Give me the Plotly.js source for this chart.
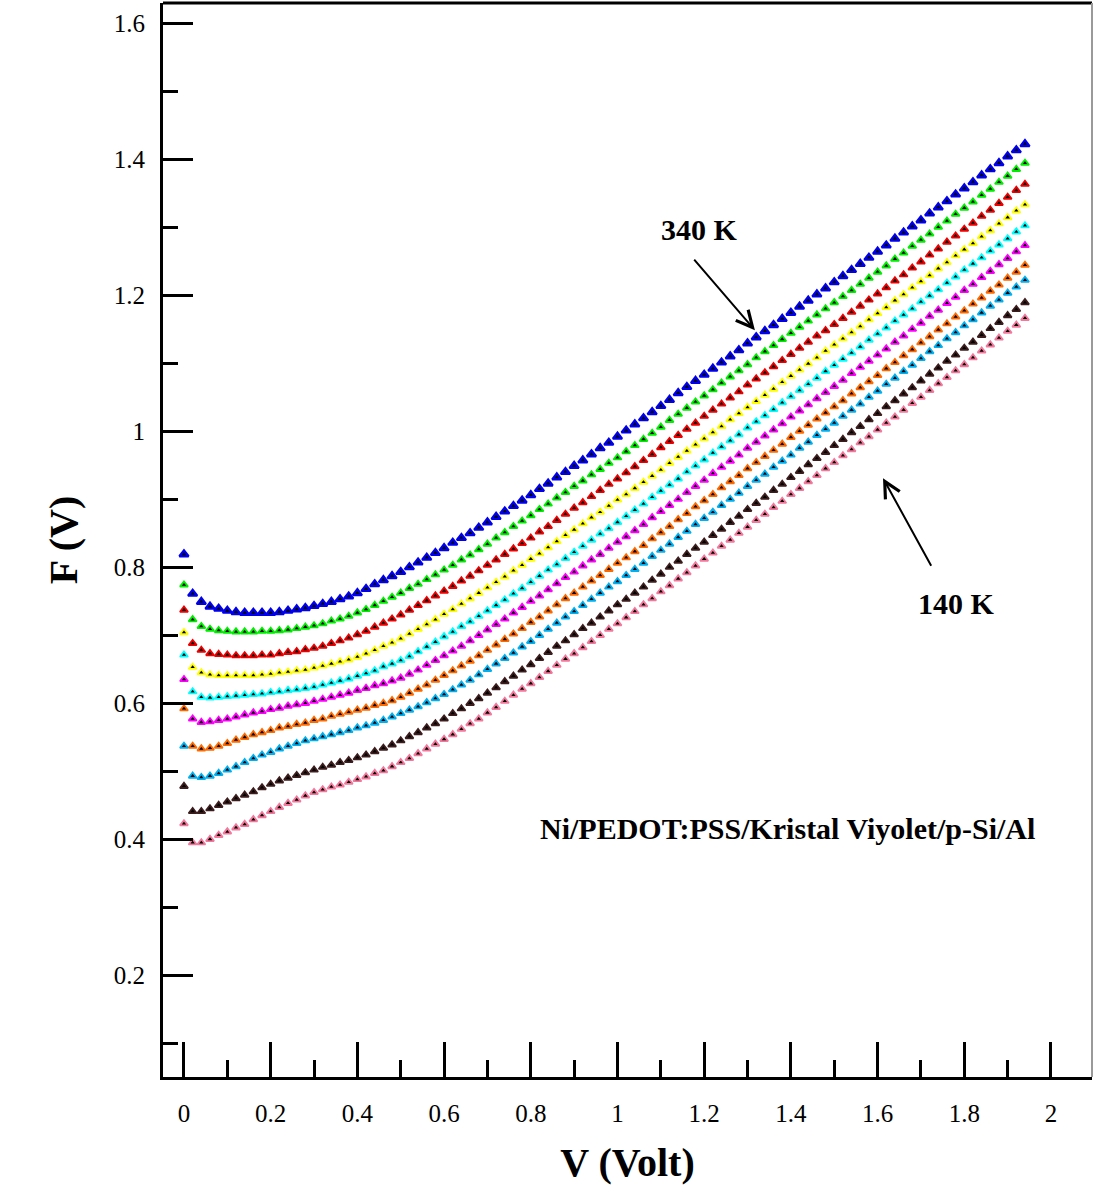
<!DOCTYPE html>
<html>
<head>
<meta charset="utf-8">
<script src="https://cdn.plot.ly/plotly-3.0.1.min.js"></script>
<style>html,body{margin:0;padding:0;background:#fff;}#chart{width:1094px;height:1200px;}</style>
</head>
<body>
<div id="chart"></div>
<script>
// Bias voltage (V), 0 to 1.94 V in 0.02 V steps
const voltage = [0,0.02,0.04,0.06,0.08,0.10,0.12,0.14,0.16,0.18,
  0.20,0.22,0.24,0.26,0.28,0.30,0.32,0.34,0.36,0.38,
  0.40,0.42,0.44,0.46,0.48,0.50,0.52,0.54,0.56,0.58,
  0.60,0.62,0.64,0.66,0.68,0.70,0.72,0.74,0.76,0.78,
  0.80,0.82,0.84,0.86,0.88,0.90,0.92,0.94,0.96,0.98,
  1.00,1.02,1.04,1.06,1.08,1.10,1.12,1.14,1.16,1.18,
  1.20,1.22,1.24,1.26,1.28,1.30,1.32,1.34,1.36,1.38,
  1.40,1.42,1.44,1.46,1.48,1.50,1.52,1.54,1.56,1.58,
  1.60,1.62,1.64,1.66,1.68,1.70,1.72,1.74,1.76,1.78,
  1.80,1.82,1.84,1.86,1.88,1.90,1.92,1.94];

// Norde function F(V) for each temperature (top curve = 340 K, bottom = 140 K)
const F_340K = [0.819,0.761,0.749,0.742,0.739,0.736,0.734,0.733,0.733,0.733,
  0.733,0.734,0.736,0.738,0.740,0.743,0.746,0.749,0.753,0.757,
  0.762,0.768,0.775,0.781,0.787,0.793,0.800,0.807,0.814,0.821,
  0.828,0.836,0.843,0.850,0.858,0.866,0.874,0.882,0.890,0.898,
  0.906,0.915,0.923,0.932,0.940,0.949,0.957,0.966,0.975,0.983,
  0.992,1.001,1.010,1.019,1.028,1.037,1.046,1.056,1.065,1.074,
  1.083,1.092,1.101,1.110,1.119,1.129,1.138,1.147,1.156,1.165,
  1.174,1.183,1.192,1.201,1.210,1.219,1.228,1.237,1.246,1.255,
  1.264,1.273,1.283,1.292,1.301,1.310,1.320,1.329,1.338,1.348,
  1.357,1.366,1.376,1.385,1.394,1.404,1.413,1.422];
const F_320K = [0.774,0.723,0.713,0.709,0.707,0.706,0.705,0.705,0.705,0.706,
  0.706,0.707,0.708,0.710,0.712,0.714,0.717,0.721,0.724,0.728,
  0.733,0.738,0.744,0.750,0.756,0.762,0.769,0.775,0.782,0.789,
  0.796,0.803,0.811,0.818,0.826,0.834,0.843,0.851,0.860,0.868,
  0.876,0.885,0.893,0.902,0.910,0.919,0.927,0.936,0.944,0.953,
  0.961,0.970,0.979,0.988,0.997,1.006,1.016,1.025,1.034,1.043,
  1.052,1.061,1.071,1.080,1.089,1.098,1.108,1.117,1.126,1.135,
  1.144,1.153,1.162,1.171,1.180,1.189,1.198,1.207,1.216,1.225,
  1.234,1.243,1.253,1.262,1.272,1.281,1.290,1.300,1.309,1.319,
  1.328,1.337,1.347,1.356,1.366,1.375,1.385,1.394];
const F_300K = [0.737,0.688,0.678,0.673,0.672,0.671,0.670,0.670,0.670,0.671,
  0.671,0.673,0.675,0.676,0.679,0.681,0.684,0.688,0.692,0.696,
  0.701,0.706,0.712,0.718,0.724,0.730,0.737,0.744,0.751,0.758,
  0.765,0.772,0.780,0.787,0.795,0.803,0.811,0.819,0.827,0.835,
  0.843,0.852,0.860,0.869,0.878,0.887,0.895,0.904,0.913,0.922,
  0.930,0.939,0.948,0.957,0.966,0.976,0.985,0.994,1.003,1.012,
  1.022,1.031,1.040,1.049,1.058,1.068,1.077,1.086,1.095,1.104,
  1.113,1.122,1.131,1.140,1.148,1.157,1.166,1.175,1.184,1.193,
  1.202,1.211,1.221,1.230,1.240,1.249,1.259,1.268,1.278,1.287,
  1.297,1.306,1.316,1.325,1.335,1.344,1.354,1.363];
const F_280K = [0.704,0.653,0.645,0.642,0.641,0.641,0.641,0.641,0.641,0.642,
  0.643,0.645,0.646,0.648,0.649,0.652,0.655,0.658,0.661,0.664,
  0.668,0.673,0.678,0.684,0.689,0.695,0.702,0.709,0.716,0.723,
  0.731,0.738,0.746,0.754,0.762,0.770,0.778,0.786,0.795,0.803,
  0.812,0.820,0.829,0.838,0.847,0.855,0.864,0.873,0.881,0.890,
  0.899,0.907,0.916,0.925,0.934,0.943,0.953,0.962,0.971,0.980,
  0.989,0.998,1.007,1.017,1.026,1.035,1.044,1.053,1.062,1.072,
  1.081,1.090,1.099,1.108,1.118,1.127,1.136,1.145,1.154,1.164,
  1.173,1.182,1.192,1.201,1.211,1.220,1.229,1.239,1.248,1.258,
  1.267,1.276,1.286,1.295,1.305,1.314,1.324,1.333];
const F_260K = [0.671,0.617,0.609,0.608,0.609,0.610,0.611,0.612,0.613,0.614,
  0.616,0.617,0.619,0.620,0.622,0.624,0.627,0.630,0.633,0.636,
  0.640,0.644,0.648,0.654,0.658,0.663,0.669,0.676,0.683,0.690,
  0.698,0.705,0.713,0.720,0.728,0.736,0.744,0.752,0.761,0.769,
  0.778,0.787,0.796,0.804,0.813,0.822,0.831,0.840,0.849,0.857,
  0.866,0.875,0.884,0.893,0.903,0.912,0.921,0.930,0.940,0.949,
  0.958,0.968,0.977,0.986,0.995,1.005,1.014,1.023,1.032,1.042,
  1.051,1.060,1.069,1.078,1.088,1.097,1.106,1.115,1.124,1.134,
  1.143,1.152,1.162,1.171,1.180,1.190,1.199,1.208,1.218,1.227,
  1.237,1.246,1.255,1.265,1.274,1.283,1.293,1.302];
const F_240K = [0.635,0.577,0.572,0.573,0.575,0.577,0.580,0.583,0.586,0.588,
  0.591,0.593,0.596,0.598,0.600,0.603,0.606,0.609,0.612,0.615,
  0.619,0.622,0.626,0.629,0.633,0.637,0.643,0.649,0.656,0.663,
  0.670,0.677,0.684,0.692,0.700,0.708,0.716,0.724,0.733,0.741,
  0.750,0.758,0.767,0.776,0.785,0.793,0.802,0.811,0.819,0.828,
  0.837,0.845,0.854,0.863,0.873,0.882,0.891,0.900,0.910,0.919,
  0.928,0.938,0.947,0.956,0.965,0.975,0.984,0.993,1.002,1.011,
  1.021,1.030,1.039,1.048,1.057,1.066,1.075,1.085,1.094,1.103,
  1.112,1.121,1.131,1.140,1.150,1.159,1.169,1.178,1.188,1.197,
  1.207,1.216,1.226,1.235,1.245,1.254,1.264,1.273];
const F_220K = [0.592,0.537,0.533,0.534,0.537,0.541,0.546,0.550,0.554,0.557,
  0.560,0.564,0.566,0.569,0.571,0.575,0.577,0.581,0.584,0.587,
  0.590,0.593,0.597,0.600,0.604,0.609,0.615,0.621,0.627,0.634,
  0.641,0.648,0.655,0.662,0.670,0.678,0.686,0.694,0.702,0.710,
  0.719,0.727,0.736,0.745,0.754,0.762,0.771,0.780,0.788,0.797,
  0.806,0.814,0.823,0.832,0.842,0.851,0.860,0.870,0.879,0.889,
  0.898,0.907,0.917,0.926,0.935,0.945,0.954,0.963,0.972,0.981,
  0.991,1.000,1.009,1.018,1.027,1.036,1.045,1.055,1.064,1.073,
  1.082,1.092,1.101,1.111,1.120,1.130,1.139,1.149,1.158,1.168,
  1.177,1.187,1.196,1.206,1.215,1.225,1.234,1.244];
const F_200K = [0.537,0.493,0.491,0.493,0.497,0.502,0.507,0.513,0.519,0.524,
  0.528,0.533,0.537,0.541,0.545,0.548,0.551,0.554,0.557,0.560,
  0.564,0.567,0.571,0.575,0.580,0.585,0.590,0.595,0.601,0.607,
  0.613,0.620,0.627,0.634,0.642,0.650,0.658,0.666,0.674,0.683,
  0.691,0.700,0.709,0.718,0.727,0.735,0.744,0.753,0.762,0.771,
  0.779,0.788,0.797,0.806,0.816,0.825,0.834,0.844,0.853,0.863,
  0.872,0.881,0.891,0.900,0.909,0.919,0.928,0.937,0.947,0.956,
  0.965,0.975,0.984,0.994,1.003,1.012,1.022,1.031,1.040,1.050,
  1.059,1.069,1.078,1.088,1.097,1.107,1.117,1.126,1.136,1.145,
  1.155,1.164,1.174,1.184,1.193,1.203,1.212,1.222];
const F_160K = [0.478,0.441,0.441,0.445,0.450,0.455,0.460,0.465,0.470,0.476,
  0.481,0.486,0.490,0.494,0.498,0.502,0.506,0.509,0.513,0.516,
  0.520,0.524,0.529,0.534,0.539,0.545,0.551,0.557,0.564,0.570,
  0.577,0.585,0.592,0.600,0.607,0.615,0.623,0.632,0.640,0.649,
  0.657,0.666,0.675,0.684,0.692,0.701,0.710,0.718,0.727,0.736,
  0.745,0.753,0.762,0.771,0.781,0.790,0.800,0.809,0.819,0.828,
  0.837,0.847,0.856,0.866,0.875,0.885,0.894,0.903,0.913,0.922,
  0.932,0.941,0.951,0.960,0.969,0.979,0.988,0.998,1.007,1.017,
  1.026,1.036,1.045,1.055,1.064,1.074,1.084,1.093,1.103,1.112,
  1.122,1.131,1.141,1.151,1.160,1.170,1.179,1.189];
const F_140K = [0.423,0.395,0.395,0.400,0.406,0.411,0.417,0.422,0.429,0.435,
  0.441,0.447,0.453,0.458,0.464,0.469,0.473,0.477,0.480,0.484,
  0.488,0.492,0.497,0.501,0.507,0.513,0.519,0.526,0.533,0.540,
  0.547,0.554,0.562,0.570,0.577,0.586,0.594,0.603,0.612,0.621,
  0.629,0.638,0.647,0.656,0.665,0.673,0.682,0.691,0.700,0.709,
  0.717,0.726,0.735,0.745,0.754,0.764,0.773,0.783,0.792,0.802,
  0.812,0.821,0.831,0.840,0.850,0.859,0.869,0.878,0.888,0.897,
  0.907,0.916,0.926,0.935,0.945,0.954,0.964,0.973,0.983,0.992,
  1.002,1.012,1.021,1.031,1.041,1.050,1.060,1.070,1.079,1.089,
  1.098,1.108,1.118,1.127,1.137,1.147,1.156,1.166];

const seriesNames = ['340 K','320 K','300 K','280 K','260 K','240 K','220 K','200 K','160 K','140 K'];
const seriesValues = [F_340K,F_320K,F_300K,F_280K,F_260K,F_240K,F_220K,F_200K,F_160K,F_140K];
const seriesColors = ['#0000ee','#00ee00','#ee0000','#ffff00','#00ffff','#ff00ff','#ff6a00','#00b0f0','#3c1c1c','#f2789c'];

const FONT = 'Liberation Serif, "Times New Roman", serif';

const traces = seriesValues.map((vals, k) => ({
  type: 'scatter',
  mode: 'markers',
  name: seriesNames[k],
  x: voltage,
  y: vals,
  marker: {
    symbol: 'triangle-up',
    size: k === 0 ? 8 : 7,
    color: '#000000',
    line: {color: seriesColors[k], width: k === 0 ? 2.2 : 1.8}
  },
  hoverinfo: 'x+y+name'
}));

const layout = {
  width: 1094,
  height: 1200,
  margin: {l: 163, r: 2, t: 3, b: 123},
  paper_bgcolor: '#ffffff',
  plot_bgcolor: '#ffffff',
  showlegend: false,
  font: {family: FONT, color: '#000'},
  xaxis: {
    range: [-0.0484, 2.0946],
    tick0: 0, dtick: 0.2,
    ticks: 'inside', ticklen: 35, tickwidth: 3, tickcolor: '#000',
    minor: {tick0: 0, dtick: 0.1, ticks: 'inside', ticklen: 17, tickwidth: 3, tickcolor: '#000', showgrid: false},
    showline: true, linewidth: 3, linecolor: '#000',
    showgrid: false, zeroline: false,
    tickfont: {family: FONT, size: 25, color: '#000'},
    ticklabelstandoff: 12,
    title: {text: 'V (Volt)', font: {family: FONT, size: 40, color: '#000', weight: 'bold'}, standoff: 22}
  },
  yaxis: {
    range: [0.0506, 1.6294],
    tick0: 0, dtick: 0.2,
    ticks: 'inside', ticklen: 30, tickwidth: 3, tickcolor: '#000',
    minor: {tick0: 0, dtick: 0.1, ticks: 'inside', ticklen: 15, tickwidth: 3, tickcolor: '#000', showgrid: false},
    showline: true, linewidth: 3, linecolor: '#000',
    showgrid: false, zeroline: false,
    tickfont: {family: FONT, size: 25, color: '#000'},
    ticklabelstandoff: 10,
    title: {text: 'F (V)', font: {family: FONT, size: 40, color: '#000', weight: 'bold'}, standoff: 24}
  },
  shapes: [
    {type: 'line', xref: 'paper', yref: 'paper', x0: 0, x1: 1, y0: 1, y1: 1, line: {color: '#000', width: 3}},
    {type: 'line', xref: 'paper', yref: 'paper', x0: 1, x1: 1, y0: 0, y1: 1, line: {color: '#9a9a9a', width: 2}}
  ],
  annotations: [
    {x: 1.190, y: 1.296, xref: 'x', yref: 'y', text: '340 K', showarrow: false,
     font: {family: FONT, size: 30, color: '#000', weight: 'bold'}},
    {x: 1.783, y: 0.747, xref: 'x', yref: 'y', text: '140 K', showarrow: false,
     font: {family: FONT, size: 30, color: '#000', weight: 'bold'}},
    {x: 1.392, y: 0.4154, xref: 'x', yref: 'y', text: 'Ni/PEDOT:PSS/Kristal Viyolet/p-Si/Al', showarrow: false,
     font: {family: FONT, size: 30, color: '#000', weight: 'bold'}},
    {x: 1.317, y: 1.1485, xref: 'x', yref: 'y', text: '', showarrow: true,
     ax: -62, ay: -72, arrowhead: 5, arrowsize: 1.6, arrowwidth: 2, arrowcolor: '#000'},
    {x: 1.6125, y: 0.9309, xref: 'x', yref: 'y', text: '', showarrow: true,
     ax: 49, ay: 89, arrowhead: 5, arrowsize: 1.6, arrowwidth: 2, arrowcolor: '#000'}
  ]
};

Plotly.newPlot('chart', traces, layout, {displayModeBar: false, responsive: false});
</script>
</body>
</html>
